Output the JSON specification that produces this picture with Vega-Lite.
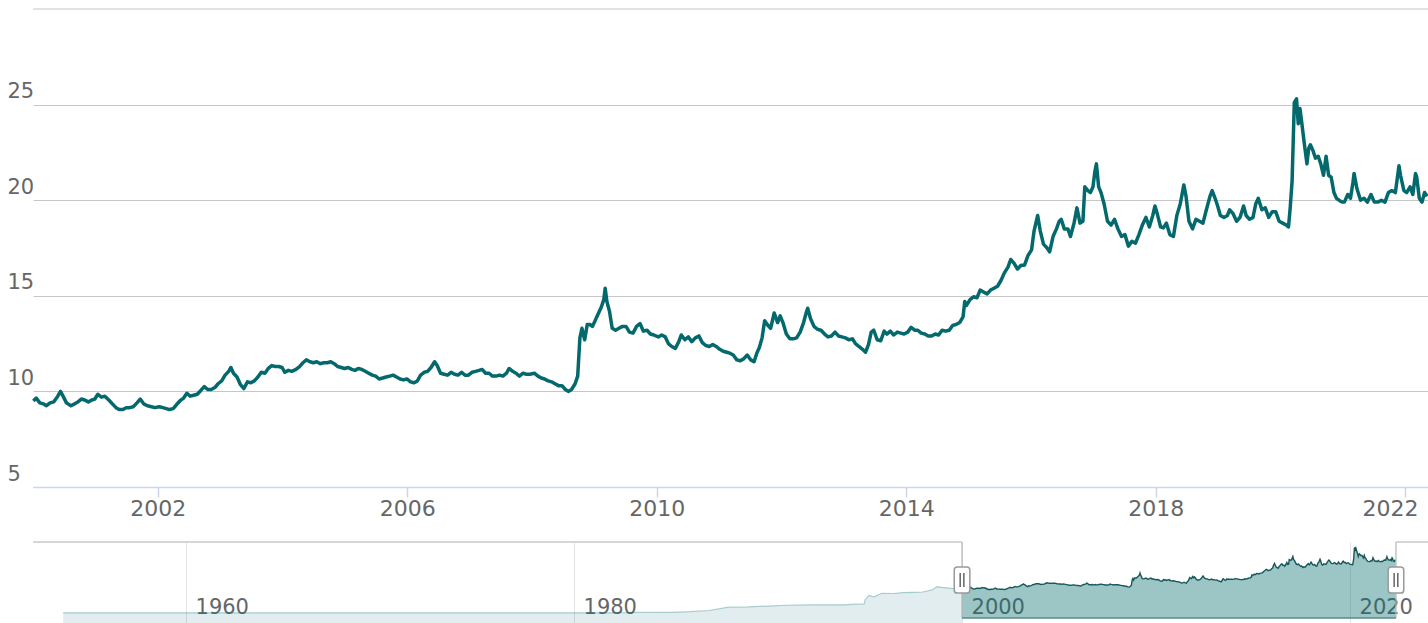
{
"$schema": "https://vega.github.io/schema/vega-lite/v6.json",
"background": "white",
"padding": {"left": 7, "top": 8, "right": 0, "bottom": 0},
"spacing": 55,
"bounds": "flush",
"config": {"view": {"stroke": null}, "font": "DejaVu Sans"},
"datasets": {
"fx": [
{"d":"1953-09-01","v":0.0125},{"d":"1976-08-15","v":0.0125},{"d":"1976-10-01","v":0.02},{"d":"1977-06-15","v":0.0228},{"d":"1980-06-15","v":0.0229},{"d":"1981-12-15","v":0.0265},{"d":"1982-03-15","v":0.045},{"d":"1982-09-15","v":0.07},{"d":"1982-12-15","v":0.15},{"d":"1983-12-15","v":0.16},{"d":"1984-12-15","v":0.21},{"d":"1985-12-15","v":0.45},{"d":"1986-12-15","v":0.92},{"d":"1987-12-15","v":2.2},{"d":"1988-12-15","v":2.28},{"d":"1989-12-15","v":2.64},{"d":"1990-12-15","v":2.94},{"d":"1991-12-15","v":3.07},{"d":"1992-12-15","v":3.12},{"d":"1993-12-15","v":3.11},{"d":"1994-06-15","v":3.35},{"d":"1994-12-15","v":3.45},{"d":"1994-12-31","v":5.0},{"d":"1995-03-15","v":6.8},{"d":"1995-06-15","v":6.2},{"d":"1995-11-15","v":7.6},{"d":"1996-06-15","v":7.5},{"d":"1996-12-15","v":7.85},{"d":"1997-06-15","v":7.95},{"d":"1997-10-15","v":8.0},{"d":"1997-12-15","v":8.1},{"d":"1998-06-15","v":8.9},{"d":"1998-09-15","v":10.2},{"d":"1998-12-15","v":9.9},{"d":"1999-06-15","v":9.5},{"d":"1999-12-15","v":9.45},
{"d":"2000-01-03","v":9.5},{"d":"2000-01-20","v":9.65},{"d":"2000-02-10","v":9.4},{"d":"2000-03-01","v":9.35},{"d":"2000-03-20","v":9.25},{"d":"2000-04-10","v":9.4},{"d":"2000-05-01","v":9.45},{"d":"2000-05-25","v":9.75},{"d":"2000-06-10","v":10.0},{"d":"2000-06-25","v":9.75},{"d":"2000-07-15","v":9.4},{"d":"2000-08-10","v":9.25},{"d":"2000-09-01","v":9.35},{"d":"2000-09-20","v":9.45},{"d":"2000-10-10","v":9.6},{"d":"2000-10-30","v":9.55},{"d":"2000-11-20","v":9.45},{"d":"2000-12-10","v":9.55},{"d":"2000-12-28","v":9.6},
{"d":"2001-01-15","v":9.85},{"d":"2001-02-05","v":9.7},{"d":"2001-02-25","v":9.75},{"d":"2001-03-20","v":9.55},{"d":"2001-04-10","v":9.35},{"d":"2001-05-01","v":9.15},{"d":"2001-05-20","v":9.05},{"d":"2001-06-10","v":9.05},{"d":"2001-06-30","v":9.15},{"d":"2001-07-20","v":9.15},{"d":"2001-08-10","v":9.2},{"d":"2001-09-01","v":9.4},{"d":"2001-09-20","v":9.6},{"d":"2001-10-10","v":9.35},{"d":"2001-11-01","v":9.25},{"d":"2001-11-25","v":9.2},{"d":"2001-12-15","v":9.15},
{"d":"2002-01-10","v":9.2},{"d":"2002-01-30","v":9.15},{"d":"2002-02-20","v":9.1},{"d":"2002-03-10","v":9.05},{"d":"2002-04-01","v":9.1},{"d":"2002-04-20","v":9.3},{"d":"2002-05-10","v":9.5},{"d":"2002-06-01","v":9.65},{"d":"2002-06-20","v":9.9},{"d":"2002-07-10","v":9.75},{"d":"2002-07-30","v":9.8},{"d":"2002-08-20","v":9.85},{"d":"2002-09-10","v":10.05},{"d":"2002-09-30","v":10.25},{"d":"2002-10-20","v":10.1},{"d":"2002-11-10","v":10.1},{"d":"2002-12-01","v":10.2},{"d":"2002-12-20","v":10.4},
{"d":"2003-01-10","v":10.55},{"d":"2003-01-30","v":10.85},{"d":"2003-02-20","v":11.05},{"d":"2003-03-05","v":11.25},{"d":"2003-03-20","v":10.95},{"d":"2003-04-10","v":10.75},{"d":"2003-04-30","v":10.35},{"d":"2003-05-20","v":10.15},{"d":"2003-06-10","v":10.5},{"d":"2003-06-30","v":10.45},{"d":"2003-07-20","v":10.55},{"d":"2003-08-10","v":10.75},{"d":"2003-08-30","v":11.0},{"d":"2003-09-20","v":10.95},{"d":"2003-10-10","v":11.2},{"d":"2003-10-30","v":11.35},{"d":"2003-11-20","v":11.3},{"d":"2003-12-10","v":11.3},{"d":"2003-12-30","v":11.25},
{"d":"2004-01-15","v":11.0},{"d":"2004-02-05","v":11.1},{"d":"2004-02-25","v":11.05},{"d":"2004-03-20","v":11.15},{"d":"2004-04-10","v":11.3},{"d":"2004-04-30","v":11.5},{"d":"2004-05-20","v":11.65},{"d":"2004-06-10","v":11.55},{"d":"2004-06-30","v":11.5},{"d":"2004-07-20","v":11.55},{"d":"2004-08-10","v":11.45},{"d":"2004-08-30","v":11.5},{"d":"2004-09-20","v":11.5},{"d":"2004-10-10","v":11.55},{"d":"2004-10-30","v":11.45},{"d":"2004-11-20","v":11.3},{"d":"2004-12-10","v":11.25},{"d":"2004-12-30","v":11.2},
{"d":"2005-01-20","v":11.25},{"d":"2005-02-10","v":11.15},{"d":"2005-03-01","v":11.1},{"d":"2005-03-20","v":11.2},{"d":"2005-04-10","v":11.15},{"d":"2005-04-30","v":11.05},{"d":"2005-05-20","v":10.95},{"d":"2005-06-10","v":10.85},{"d":"2005-06-30","v":10.8},{"d":"2005-07-20","v":10.65},{"d":"2005-08-10","v":10.7},{"d":"2005-08-30","v":10.75},{"d":"2005-09-20","v":10.8},{"d":"2005-10-10","v":10.85},{"d":"2005-10-30","v":10.75},{"d":"2005-11-20","v":10.65},{"d":"2005-12-10","v":10.6},{"d":"2005-12-30","v":10.65},
{"d":"2006-01-20","v":10.5},{"d":"2006-02-10","v":10.45},{"d":"2006-03-01","v":10.55},{"d":"2006-03-20","v":10.85},{"d":"2006-04-10","v":11.0},{"d":"2006-04-30","v":11.05},{"d":"2006-05-20","v":11.25},{"d":"2006-06-10","v":11.55},{"d":"2006-06-25","v":11.35},{"d":"2006-07-15","v":10.95},{"d":"2006-08-05","v":10.9},{"d":"2006-08-25","v":10.85},{"d":"2006-09-15","v":11.0},{"d":"2006-10-05","v":10.9},{"d":"2006-10-25","v":10.85},{"d":"2006-11-15","v":11.0},{"d":"2006-12-05","v":10.85},{"d":"2006-12-25","v":10.85},
{"d":"2007-01-15","v":11.0},{"d":"2007-02-05","v":11.05},{"d":"2007-02-25","v":11.1},{"d":"2007-03-15","v":11.15},{"d":"2007-04-05","v":10.95},{"d":"2007-04-25","v":10.95},{"d":"2007-05-15","v":10.8},{"d":"2007-06-05","v":10.8},{"d":"2007-06-25","v":10.85},{"d":"2007-07-15","v":10.8},{"d":"2007-08-05","v":10.95},{"d":"2007-08-20","v":11.2},{"d":"2007-09-10","v":11.05},{"d":"2007-09-30","v":10.95},{"d":"2007-10-20","v":10.8},{"d":"2007-11-10","v":10.95},{"d":"2007-11-30","v":10.9},{"d":"2007-12-20","v":10.9},
{"d":"2008-01-15","v":10.95},{"d":"2008-02-05","v":10.8},{"d":"2008-02-25","v":10.7},{"d":"2008-03-15","v":10.65},{"d":"2008-04-05","v":10.55},{"d":"2008-04-25","v":10.5},{"d":"2008-05-15","v":10.4},{"d":"2008-06-05","v":10.3},{"d":"2008-06-25","v":10.3},{"d":"2008-07-15","v":10.1},{"d":"2008-08-01","v":10.0},{"d":"2008-08-20","v":10.1},{"d":"2008-09-10","v":10.4},{"d":"2008-09-25","v":10.8},{"d":"2008-10-08","v":12.8},{"d":"2008-10-20","v":13.3},{"d":"2008-11-05","v":12.7},{"d":"2008-11-20","v":13.5},{"d":"2008-12-05","v":13.5},{"d":"2008-12-20","v":13.4},
{"d":"2009-01-05","v":13.7},{"d":"2009-01-20","v":14.0},{"d":"2009-02-10","v":14.4},{"d":"2009-02-25","v":14.8},{"d":"2009-03-05","v":15.4},{"d":"2009-03-15","v":14.7},{"d":"2009-03-30","v":14.2},{"d":"2009-04-15","v":13.3},{"d":"2009-05-05","v":13.2},{"d":"2009-05-25","v":13.3},{"d":"2009-06-15","v":13.4},{"d":"2009-07-05","v":13.4},{"d":"2009-07-25","v":13.1},{"d":"2009-08-15","v":13.05},{"d":"2009-09-05","v":13.4},{"d":"2009-09-25","v":13.55},{"d":"2009-10-15","v":13.15},{"d":"2009-11-05","v":13.2},{"d":"2009-11-25","v":13.0},{"d":"2009-12-15","v":12.95},
{"d":"2010-01-10","v":12.85},{"d":"2010-01-30","v":12.95},{"d":"2010-02-20","v":12.85},{"d":"2010-03-10","v":12.5},{"d":"2010-03-30","v":12.35},{"d":"2010-04-20","v":12.25},{"d":"2010-05-10","v":12.6},{"d":"2010-05-25","v":12.95},{"d":"2010-06-15","v":12.7},{"d":"2010-07-05","v":12.85},{"d":"2010-07-25","v":12.6},{"d":"2010-08-15","v":12.8},{"d":"2010-09-05","v":12.9},{"d":"2010-09-25","v":12.55},{"d":"2010-10-15","v":12.4},{"d":"2010-11-05","v":12.35},{"d":"2010-11-25","v":12.45},{"d":"2010-12-15","v":12.35},
{"d":"2011-01-05","v":12.2},{"d":"2011-01-25","v":12.1},{"d":"2011-02-15","v":12.05},{"d":"2011-03-05","v":12.0},{"d":"2011-03-25","v":11.9},{"d":"2011-04-15","v":11.65},{"d":"2011-05-05","v":11.6},{"d":"2011-05-25","v":11.7},{"d":"2011-06-15","v":11.9},{"d":"2011-07-05","v":11.65},{"d":"2011-07-25","v":11.55},{"d":"2011-08-10","v":12.0},{"d":"2011-08-25","v":12.3},{"d":"2011-09-10","v":12.8},{"d":"2011-09-25","v":13.7},{"d":"2011-10-10","v":13.5},{"d":"2011-10-30","v":13.3},{"d":"2011-11-20","v":14.1},{"d":"2011-12-10","v":13.6},{"d":"2011-12-25","v":13.95},
{"d":"2012-01-10","v":13.6},{"d":"2012-01-30","v":13.0},{"d":"2012-02-20","v":12.75},{"d":"2012-03-10","v":12.75},{"d":"2012-03-30","v":12.8},{"d":"2012-04-20","v":13.1},{"d":"2012-05-10","v":13.6},{"d":"2012-05-25","v":14.1},{"d":"2012-06-03","v":14.35},{"d":"2012-06-20","v":13.8},{"d":"2012-07-10","v":13.4},{"d":"2012-07-30","v":13.25},{"d":"2012-08-20","v":13.2},{"d":"2012-09-10","v":13.0},{"d":"2012-09-30","v":12.85},{"d":"2012-10-20","v":12.9},{"d":"2012-11-10","v":13.1},{"d":"2012-11-30","v":12.9},{"d":"2012-12-20","v":12.85},
{"d":"2013-01-10","v":12.8},{"d":"2013-01-30","v":12.7},{"d":"2013-02-20","v":12.75},{"d":"2013-03-10","v":12.5},{"d":"2013-03-30","v":12.35},{"d":"2013-04-20","v":12.2},{"d":"2013-05-08","v":12.05},{"d":"2013-05-25","v":12.45},{"d":"2013-06-10","v":13.1},{"d":"2013-06-25","v":13.2},{"d":"2013-07-15","v":12.7},{"d":"2013-08-05","v":12.65},{"d":"2013-08-25","v":13.15},{"d":"2013-09-10","v":13.0},{"d":"2013-09-30","v":13.15},{"d":"2013-10-20","v":12.95},{"d":"2013-11-10","v":13.1},{"d":"2013-11-30","v":13.05},{"d":"2013-12-20","v":13.0},
{"d":"2014-01-10","v":13.1},{"d":"2014-01-30","v":13.35},{"d":"2014-02-20","v":13.2},{"d":"2014-03-10","v":13.2},{"d":"2014-03-30","v":13.05},{"d":"2014-04-20","v":13.0},{"d":"2014-05-10","v":12.9},{"d":"2014-05-30","v":12.9},{"d":"2014-06-20","v":13.0},{"d":"2014-07-10","v":12.95},{"d":"2014-07-30","v":13.2},{"d":"2014-08-20","v":13.15},{"d":"2014-09-10","v":13.2},{"d":"2014-09-30","v":13.45},{"d":"2014-10-20","v":13.5},{"d":"2014-11-10","v":13.6},{"d":"2014-11-30","v":13.9},{"d":"2014-12-10","v":14.7},{"d":"2014-12-20","v":14.5},
{"d":"2015-01-10","v":14.8},{"d":"2015-01-30","v":14.95},{"d":"2015-02-20","v":14.9},{"d":"2015-03-10","v":15.3},{"d":"2015-03-30","v":15.2},{"d":"2015-04-20","v":15.1},{"d":"2015-05-10","v":15.3},{"d":"2015-05-30","v":15.4},{"d":"2015-06-20","v":15.5},{"d":"2015-07-10","v":15.8},{"d":"2015-07-30","v":16.2},{"d":"2015-08-20","v":16.5},{"d":"2015-09-05","v":16.9},{"d":"2015-09-25","v":16.7},{"d":"2015-10-15","v":16.4},{"d":"2015-11-05","v":16.6},{"d":"2015-11-25","v":16.6},{"d":"2015-12-15","v":17.1},
{"d":"2016-01-05","v":17.4},{"d":"2016-01-20","v":18.4},{"d":"2016-02-10","v":19.2},{"d":"2016-02-25","v":18.4},{"d":"2016-03-15","v":17.7},{"d":"2016-04-05","v":17.5},{"d":"2016-04-20","v":17.3},{"d":"2016-05-10","v":18.1},{"d":"2016-05-30","v":18.5},{"d":"2016-06-15","v":18.9},{"d":"2016-06-27","v":19.0},{"d":"2016-07-15","v":18.5},{"d":"2016-08-05","v":18.5},{"d":"2016-08-20","v":18.1},{"d":"2016-09-10","v":18.8},{"d":"2016-09-27","v":19.6},{"d":"2016-10-15","v":18.8},{"d":"2016-11-01","v":18.9},{"d":"2016-11-12","v":20.7},{"d":"2016-11-30","v":20.5},{"d":"2016-12-15","v":20.4},{"d":"2016-12-30","v":20.7},
{"d":"2017-01-10","v":21.5},{"d":"2017-01-19","v":21.9},{"d":"2017-02-01","v":20.7},{"d":"2017-02-15","v":20.4},{"d":"2017-03-05","v":19.8},{"d":"2017-03-25","v":18.9},{"d":"2017-04-15","v":18.7},{"d":"2017-05-05","v":19.0},{"d":"2017-05-25","v":18.5},{"d":"2017-06-15","v":18.1},{"d":"2017-07-05","v":18.2},{"d":"2017-07-25","v":17.6},{"d":"2017-08-15","v":17.85},{"d":"2017-09-05","v":17.75},{"d":"2017-09-25","v":18.2},{"d":"2017-10-15","v":18.7},{"d":"2017-11-05","v":19.1},{"d":"2017-11-25","v":18.6},{"d":"2017-12-15","v":19.2},{"d":"2017-12-28","v":19.7},
{"d":"2018-01-10","v":19.3},{"d":"2018-01-30","v":18.6},{"d":"2018-02-15","v":18.55},{"d":"2018-03-05","v":18.8},{"d":"2018-03-25","v":18.2},{"d":"2018-04-15","v":18.1},{"d":"2018-05-05","v":19.2},{"d":"2018-05-25","v":19.8},{"d":"2018-06-15","v":20.8},{"d":"2018-06-28","v":20.2},{"d":"2018-07-15","v":18.9},{"d":"2018-08-05","v":18.5},{"d":"2018-08-25","v":19.0},{"d":"2018-09-15","v":18.9},{"d":"2018-10-05","v":18.8},{"d":"2018-10-25","v":19.5},{"d":"2018-11-15","v":20.2},{"d":"2018-11-28","v":20.5},{"d":"2018-12-15","v":20.1},{"d":"2018-12-30","v":19.7},
{"d":"2019-01-15","v":19.2},{"d":"2019-02-05","v":19.1},{"d":"2019-02-25","v":19.2},{"d":"2019-03-10","v":19.5},{"d":"2019-03-30","v":19.3},{"d":"2019-04-20","v":18.9},{"d":"2019-05-10","v":19.1},{"d":"2019-05-31","v":19.7},{"d":"2019-06-15","v":19.2},{"d":"2019-07-05","v":19.0},{"d":"2019-07-25","v":19.1},{"d":"2019-08-10","v":19.8},{"d":"2019-08-25","v":20.1},{"d":"2019-09-15","v":19.5},{"d":"2019-10-05","v":19.6},{"d":"2019-10-25","v":19.1},{"d":"2019-11-15","v":19.4},{"d":"2019-12-05","v":19.4},{"d":"2019-12-25","v":18.9},
{"d":"2020-01-15","v":18.8},{"d":"2020-02-05","v":18.7},{"d":"2020-02-18","v":18.6},{"d":"2020-02-28","v":19.6},{"d":"2020-03-10","v":21.0},{"d":"2020-03-23","v":25.1},{"d":"2020-04-05","v":25.3},{"d":"2020-04-15","v":24.0},{"d":"2020-04-25","v":24.8},{"d":"2020-05-05","v":24.1},{"d":"2020-05-20","v":23.0},{"d":"2020-06-05","v":21.9},{"d":"2020-06-15","v":22.7},{"d":"2020-06-25","v":22.9},{"d":"2020-07-10","v":22.6},{"d":"2020-07-25","v":22.2},{"d":"2020-08-10","v":22.3},{"d":"2020-08-25","v":21.9},{"d":"2020-09-10","v":21.3},{"d":"2020-09-25","v":22.3},{"d":"2020-10-10","v":21.3},{"d":"2020-10-25","v":21.2},{"d":"2020-11-10","v":20.4},{"d":"2020-11-25","v":20.1},{"d":"2020-12-10","v":20.0},{"d":"2020-12-28","v":19.9},
{"d":"2021-01-10","v":19.9},{"d":"2021-01-30","v":20.3},{"d":"2021-02-15","v":20.1},{"d":"2021-03-01","v":20.9},{"d":"2021-03-08","v":21.4},{"d":"2021-03-25","v":20.6},{"d":"2021-04-15","v":20.0},{"d":"2021-05-05","v":20.1},{"d":"2021-05-25","v":19.9},{"d":"2021-06-15","v":20.3},{"d":"2021-07-05","v":19.9},{"d":"2021-07-25","v":19.9},{"d":"2021-08-15","v":20.0},{"d":"2021-09-05","v":19.9},{"d":"2021-09-25","v":20.4},{"d":"2021-10-15","v":20.5},{"d":"2021-11-05","v":20.4},{"d":"2021-11-26","v":21.8},{"d":"2021-12-05","v":21.3},{"d":"2021-12-25","v":20.5},
{"d":"2022-01-10","v":20.4},{"d":"2022-01-30","v":20.7},{"d":"2022-02-15","v":20.3},{"d":"2022-03-03","v":21.4},{"d":"2022-03-10","v":21.2},{"d":"2022-03-25","v":20.1},{"d":"2022-04-10","v":19.9},{"d":"2022-04-25","v":20.4},{"d":"2022-05-10","v":20.2}
]
},
"vconcat": [
{
"width": 1395,
"height": 478,
"layer": [
{
"data": {"values": [{}]},
"mark": {"type": "rule", "color": "#c6c6c6", "strokeWidth": 1.2},
"encoding": {"y": {"datum": 30, "type": "quantitative", "title": null}}
},
{
"data": {"name": "fx", "format": {"parse": {"d": "date"}}},
"transform": [{"filter": {"field": "d", "gte": {"year": 2000, "month": 1, "date": 1}}}],
"mark": {"type": "line", "color": "#04696c", "strokeWidth": 3.5, "strokeJoin": "round"},
"encoding": {
"x": {"field": "d", "type": "temporal", "title": null,
"scale": {"domain": [{"year": 2000, "month": 1, "date": 1}, {"year": 2022, "month": 5, "date": 15}]},
"axis": {"values": [{"year": 2002}, {"year": 2006}, {"year": 2010}, {"year": 2014}, {"year": 2018}, {"year": 2022}],
"format": "%Y", "grid": false, "domainColor": "#ccd6eb", "domainWidth": 1.5, "tickColor": "#ccd6eb", "tickSize": 10, "tickWidth": 1.5,
"labelPadding": 1, "labelFontSize": 22, "labelColor": "#666666", "labelFont": "DejaVu Sans", "labelFlush": false, "labelOverlap": false,
"labelOffset": {"condition": {"test": "year(datum.value) == 2022", "value": -15}, "value": 0}}},
"y": {"field": "v", "type": "quantitative", "title": null,
"scale": {"domain": [5, 30], "nice": false, "zero": false},
"axis": {"values": [5, 10, 15, 20, 25], "grid": true, "gridColor": "#c6c6c6", "gridWidth": 1.2, "domain": false, "ticks": false, "tickSize": 0,
"labelAlign": "left", "labelPadding": 26, "labelBaseline": "alphabetic", "labelOffset": -7,
"labelFontSize": 21, "labelColor": "#666666", "labelFont": "DejaVu Sans"}}
}
}
]
},
{
"width": 1395,
"height": 82,
"layer": [
{
"data": {"name": "fx", "format": {"parse": {"d": "date"}}},
"transform": [{"filter": {"field": "d", "lte": {"year": 2000, "month": 1, "date": 3}}}],
"mark": {"type": "area", "color": "#076d70", "opacity": 0.12},
"encoding": {
"x": {"field": "d", "type": "temporal", "title": null,
"scale": {"domain": [{"year": 1952, "month": 2, "date": 11}, {"year": 2024, "month": 1, "date": 8}]},
"axis": {"values": [{"year": 1960}, {"year": 1980}, {"year": 2000}, {"year": 2020}], "format": "%Y",
"grid": true, "gridColor": "#e3e3e3", "gridWidth": 1, "domain": false, "ticks": false, "tickSize": 0,
"labelAlign": "left", "labelBaseline": "alphabetic", "labelPadding": -11, "labelOffset": 9,
"labelFontSize": 21, "labelColor": "#666666", "labelFont": "DejaVu Sans", "labelFlush": false, "labelOverlap": false}},
"y": {"field": "v", "type": "quantitative", "title": null, "axis": null,
"scale": {"domain": [-4.33, 27.5], "nice": false, "zero": false}},
"y2": {"datum": -4.33}
}
},
{
"data": {"name": "fx", "format": {"parse": {"d": "date"}}},
"transform": [{"filter": {"field": "d", "lte": {"year": 2000, "month": 1, "date": 3}}}],
"mark": {"type": "line", "color": "#076d70", "opacity": 0.3, "strokeWidth": 1.2},
"encoding": {
"x": {"field": "d", "type": "temporal", "title": null},
"y": {"field": "v", "type": "quantitative", "title": null}
}
},
{
"data": {"name": "fx", "format": {"parse": {"d": "date"}}},
"transform": [{"filter": {"field": "d", "gte": {"year": 2000, "month": 1, "date": 1}}}],
"mark": {"type": "area", "color": "#076d70", "opacity": 0.4},
"encoding": {
"x": {"field": "d", "type": "temporal", "title": null},
"y": {"field": "v", "type": "quantitative", "title": null},
"y2": {"datum": -2}
}
},
{
"data": {"name": "fx", "format": {"parse": {"d": "date"}}},
"transform": [{"filter": {"field": "d", "gte": {"year": 2000, "month": 1, "date": 1}}}],
"mark": {"type": "line", "color": "#17575a", "strokeWidth": 1.4},
"encoding": {
"x": {"field": "d", "type": "temporal", "title": null},
"y": {"field": "v", "type": "quantitative", "title": null}
}
},
{
"data": {"values": [{}]},
"mark": {"type": "rule", "color": "#c8c8c8", "strokeWidth": 1.5},
"encoding": {
"x": {"datum": {"year": 1952, "month": 2, "date": 11}, "type": "temporal", "title": null},
"x2": {"datum": {"year": 2000, "month": 1, "date": 1}},
"y": {"datum": 27.5, "type": "quantitative", "title": null}
}
},
{
"data": {"values": [{}]},
"mark": {"type": "rule", "color": "#c8c8c8", "strokeWidth": 1.5},
"encoding": {
"x": {"datum": {"year": 2022, "month": 5, "date": 15}, "type": "temporal", "title": null},
"x2": {"datum": {"year": 2024, "month": 1, "date": 8}},
"y": {"datum": 27.5, "type": "quantitative", "title": null}
}
},
{
"data": {"values": [{}]},
"mark": {"type": "rule", "color": "#b5b5b5", "strokeWidth": 1.2},
"encoding": {
"x": {"datum": {"year": 2000, "month": 1, "date": 1}, "type": "temporal", "title": null},
"y": {"datum": 27.5, "type": "quantitative", "title": null},
"y2": {"datum": -2}
}
},
{
"data": {"values": [{}]},
"mark": {"type": "rule", "color": "#b5b5b5", "strokeWidth": 1.2},
"encoding": {
"x": {"datum": {"year": 2022, "month": 5, "date": 15}, "type": "temporal", "title": null},
"y": {"datum": 27.5, "type": "quantitative", "title": null},
"y2": {"datum": -2}
}
},
{
"data": {"values": [{}]},
"mark": {"type": "rule", "color": "#5e8788", "strokeWidth": 1.5},
"encoding": {
"x": {"datum": {"year": 2000, "month": 1, "date": 1}, "type": "temporal", "title": null},
"x2": {"datum": {"year": 2022, "month": 5, "date": 15}},
"y": {"datum": -2, "type": "quantitative", "title": null}
}
},
{
"data": {"values": [{}]},
"mark": {"type": "point", "filled": true, "fill": "#ffffff", "stroke": "#999999", "strokeWidth": 1.5, "opacity": 1, "size": 2704,
"shape": "M-0.3,-0.38Q-0.3,-0.5,-0.18,-0.5L0.18,-0.5Q0.3,-0.5,0.3,-0.38L0.3,0.38Q0.3,0.5,0.18,0.5L-0.18,0.5Q-0.3,0.5,-0.3,0.38Z"},
"encoding": {
"x": {"datum": {"year": 2000, "month": 1, "date": 1}, "type": "temporal", "title": null},
"y": {"datum": 12.75, "type": "quantitative", "title": null}
}
},
{
"data": {"values": [{}]},
"mark": {"type": "point", "filled": true, "fill": "#ffffff", "stroke": "#999999", "strokeWidth": 1.5, "opacity": 1, "size": 2704,
"shape": "M-0.3,-0.38Q-0.3,-0.5,-0.18,-0.5L0.18,-0.5Q0.3,-0.5,0.3,-0.38L0.3,0.38Q0.3,0.5,0.18,0.5L-0.18,0.5Q-0.3,0.5,-0.3,0.38Z"},
"encoding": {
"x": {"datum": {"year": 2022, "month": 5, "date": 15}, "type": "temporal", "title": null},
"y": {"datum": 12.75, "type": "quantitative", "title": null}
}
},
{
"data": {"values": [{}]},
"mark": {"type": "point", "filled": false, "stroke": "#666666", "strokeWidth": 1.5, "opacity": 1, "size": 2704,
"shape": "M-0.07,-0.27L-0.07,0.27M0.07,-0.27L0.07,0.27"},
"encoding": {
"x": {"datum": {"year": 2000, "month": 1, "date": 1}, "type": "temporal", "title": null},
"y": {"datum": 12.75, "type": "quantitative", "title": null}
}
},
{
"data": {"values": [{}]},
"mark": {"type": "point", "filled": false, "stroke": "#666666", "strokeWidth": 1.5, "opacity": 1, "size": 2704,
"shape": "M-0.07,-0.27L-0.07,0.27M0.07,-0.27L0.07,0.27"},
"encoding": {
"x": {"datum": {"year": 2022, "month": 5, "date": 15}, "type": "temporal", "title": null},
"y": {"datum": 12.75, "type": "quantitative", "title": null}
}
}
]
}
]
}
